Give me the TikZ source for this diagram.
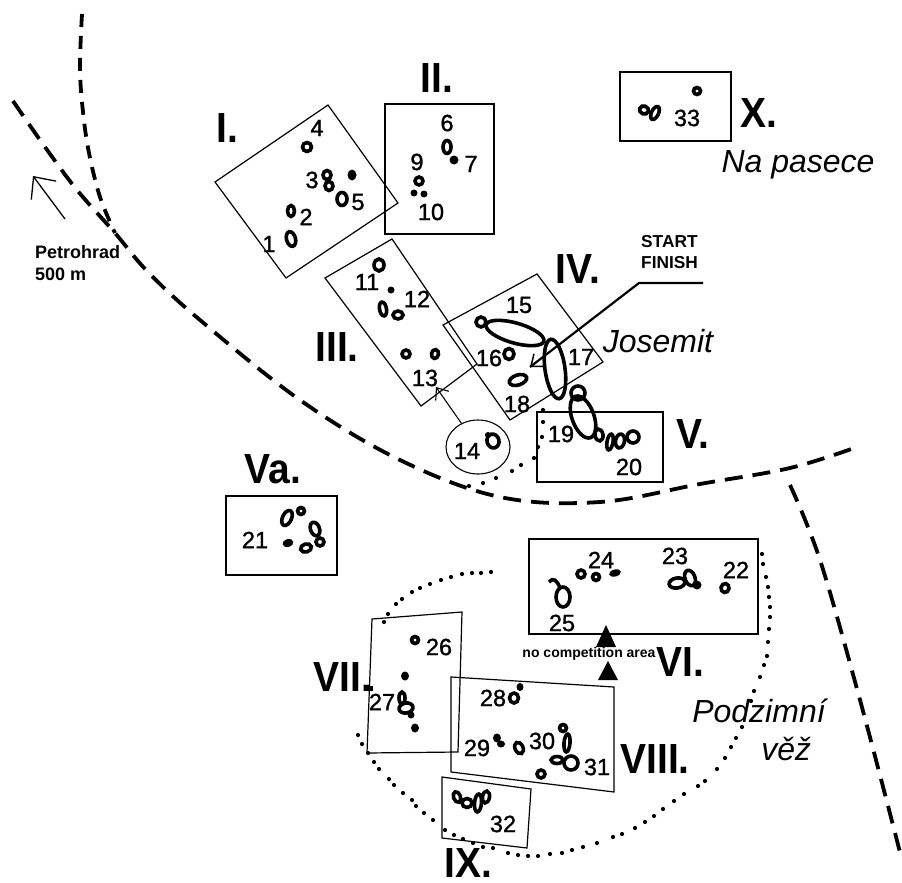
\documentclass[tikz,border=0pt]{standalone}
\usepackage{fontspec}
\setmainfont{Liberation Sans}
\newfontfamily\numf[FakeBold=1.2]{Liberation Sans}
\usetikzlibrary{shapes.geometric,arrows.meta,calc}
\tikzset{
  num/.style={inner sep=0pt,font=\numf\fontsize{23.5}{23.5}\selectfont},
  roman/.style={inner sep=0pt,font=\fontsize{39}{39}\selectfont\bfseries,yscale=1.08,transform shape},
  place/.style={inner sep=0pt,font=\fontsize{32}{38}\selectfont\itshape,align=left},
  small/.style={inner sep=0pt,font=\bfseries,align=left},
  area/.style={draw=black,line width=1.2pt,line join=miter},
  mk/.style={draw=black,line width=3.6pt},
  road/.style={draw=black,line width=3.8pt,dash pattern=on 18pt off 10pt},
  link/.style={draw=black,line width=1.1pt,-{Straight Barb[length=10pt,width=16pt]}}
}
\newcommand{\mk}[5]{\draw[mk,rotate around={#5:(#1,#2)}] (#1,#2) ellipse [x radius=#3, y radius=#4];}
\newcommand{\mkf}[5]{\fill[rotate around={#5:(#1,#2)}] (#1,#2) ellipse [x radius=#3, y radius=#4];}
\begin{document}
\begin{tikzpicture}[x=1pt,y=-1pt]
\useasboundingbox (0,0) rectangle (902,883);
% roads
\draw[road,dash pattern=on 13pt off 9pt] plot[smooth,tension=0.6] coordinates {(82,14) (80,68) (83,112) (89,153) (100,197) (115,233)};
\draw[road] plot[smooth,tension=0.6] coordinates {(13,101) (45,147) (77,190) (115,233) (148,272) (200,320) (300,400) (400,460) (500,497) (600,502) (700,484) (790,468) (857,447)};
\draw[road] plot[smooth,tension=0.6] coordinates {(790,485) (820,560) (860,700) (902,860)};
% dotted lines
\foreach \p/\q in {543/410,543/422,542/437,538/447,534/458,521/465,512/471,496/478,483/483,469/486,
  491/572,481/573,472/573,462/574,451/577,441/580,430/584,420/588,412/592,402/599,396/604,388/614,384/622,
  358/735,362/744,368/753,374/762,379/769,389/779,394/785,403/793,412/800,416/806,424/813,433/820,445/830,454/835,463/839,473/843,483/847,493/848,508/853,518/855,528/856,538/856,550/854,562/853,572/850,583/847,597/843,613/837,622/834,635/828,645/822,654/816,663/809,674/801,684/794,698/786,705/781,717/769,725/758,731/747,736/738,742/727,751/701,754/691,760/677,764/665,767/656,768/642,769/629,770/617,770/607,769/597,768/587,766/577,763/564,762/554}
  {\fill (\p,\q) circle (2.1);}
\fill (367.5,685.5) rectangle (372.5,690.5);
% areas
\draw[area] (215,182) -- (328,105) -- (398,203) -- (286,278) -- cycle;
\draw[area] (385,104) rectangle (494,234);
\draw[area] (325,278) -- (392,239) -- (477,364) -- (421,406) -- cycle;
\draw[area] (443,325) -- (537,274) -- (603,362) -- (510,420) -- cycle;
\draw[area] (537,412) rectangle (663,482);
\draw[area] (620,72) rectangle (731,141);
\draw[area] (226,496) rectangle (337,575);
\draw[area] (529,539) rectangle (758,634);
\draw[area] (372,619) -- (462,612) -- (458,752) -- (367,753) -- cycle;
\draw[area] (451,677) -- (614,687) -- (614,792) -- (451,772) -- cycle;
\draw[area] (442,777) -- (531,789) -- (527,848) -- (442,838) -- cycle;
% markers I, II
\mk{307}{147}{4.5}{4.5}{0}\mk{327}{175}{4}{4.5}{0}\mk{329}{186}{4}{4.5}{0}\mkf{352}{175}{4.5}{5.5}{0}
\mk{342}{199}{5}{6.5}{0}\mk{291}{211}{3.5}{5.5}{0}\mk{291}{239}{4.5}{7.5}{15}
\mk{447}{147}{4}{6.5}{0}\mkf{454}{160}{4.5}{4.5}{0}\mk{419}{181}{4}{4}{0}\mkf{414}{193}{3.5}{3.5}{0}\mkf{424}{194}{3.5}{3.5}{0}
% III
\mk{379}{265}{5}{6}{0}\mkf{391}{290}{3.5}{3.5}{0}\mk{383}{309}{3.5}{7}{10}\mk{398}{315}{5}{4}{0}\mk{406}{354}{4}{4}{0}\mk{435}{354}{3.5}{4.5}{-10}
% IV
\mk{481}{322}{5}{5}{0}\mk{515}{333}{30}{10}{-16}\mk{509}{354}{5}{5.5}{0}\mk{555}{369}{10}{30}{8}\mk{518}{380}{9}{5}{18}
\mk{578}{393}{7}{7}{0}\mk{583}{417}{11}{22}{20}
% V
\mk{599}{435}{4}{6}{10}\mk{610}{442}{3}{8}{-10}\mk{620}{441}{4.5}{7}{-10}\mk{633}{437}{6}{6}{0}
% 14
\mk{493}{441}{6}{7}{15}\mkf{488}{435}{3}{3}{0}
% X
\mk{644}{110}{4.5}{4}{-20}\mk{655}{113}{3.5}{7}{-25}\mk{697}{91}{3.5}{3.5}{0}
% Va
\mk{287}{518}{4.5}{8}{-25}\mk{301}{511}{3.5}{3.5}{0}\mk{315}{529}{4.5}{7}{20}\mk{320}{542}{4}{4}{0}\mkf{288}{543}{5.5}{4}{15}\mk{306}{548}{5.5}{4}{15}
% VI
\mk{581}{574}{4}{4}{0}\mk{596}{577}{3.5}{3.5}{0}\mkf{615}{573}{6}{3.5}{15}\mk{563}{597}{7}{10}{0}
\draw[mk] (549,582) .. controls (553,577) and (557,580) .. (560,588);
\mk{677}{583}{8}{5}{10}\mk{690}{578}{5}{8}{20}\mkf{697}{585}{4.5}{4.5}{0}\mk{725}{588}{4}{4.5}{-10}
% VII
\mk{415}{640}{3.5}{3.5}{0}\mkf{405}{676}{4}{4.5}{0}\mk{402}{698}{3}{6}{0}\mk{406}{708}{7}{5}{10}\mkf{411}{715}{3.5}{3.5}{0}\mkf{415}{728}{4}{4.5}{0}
% VIII
\mkf{520}{687}{3.5}{4}{0}\mk{514}{698}{4.5}{5}{0}\mkf{497}{738}{4}{4.5}{0}\mkf{501}{744}{4}{3.5}{0}\mk{519}{748}{4}{6}{25}
\mk{563}{728}{3.5}{3.5}{0}\mk{567}{743}{3}{9}{-5}\mk{557}{760}{6}{3.5}{0}\mk{571}{763}{7}{7}{0}\mk{541}{774}{4}{4}{0}
% IX
\mk{457}{797}{3.5}{5.5}{20}\mk{467}{803}{5}{4.5}{0}\mk{478}{803}{3.5}{9}{-5}\mk{486}{797}{3.5}{6}{-10}
% triangles
\fill (606,625) -- (596,647) -- (616,647) -- cycle;
\fill (608,661) -- (598,680) -- (618,680) -- cycle;
% numbers
\node[num] (n1) at (269,244) {1};
\node[num] (n2) at (306,217) {2};
\node[num] (n3) at (312,180) {3};
\node[num] (n4) at (317,128) {4};
\node[num] (n5) at (358,202) {5};
\node[num] (n6) at (447,123) {6};
\node[num] (n7) at (471,164) {7};
\node[num] (n9) at (417,162) {9};
\node[num] (n10) at (431,212) {10};
\node[num] (n11) at (367,282) {11};
\node[num] (n12) at (417,299) {12};
\node[num] (n13) at (425,378) {13};
\node[num] (n14) at (467,451) {14};
\node[num] (n15) at (519,305) {15};
\node[num] (n16) at (489,358) {16};
\node[num] (n17) at (581,357) {17};
\node[num] (n18) at (517,404) {18};
\node[num] (n19) at (561,434) {19};
\node[num] (n20) at (629,467) {20};
\node[num] (n21) at (255,540) {21};
\node[num] (n22) at (736,570) {22};
\node[num] (n23) at (675,556) {23};
\node[num] (n24) at (601,560) {24};
\node[num] (n25) at (562,623) {25};
\node[num] (n26) at (439,647) {26};
\node[num] (n27) at (382,702) {27};
\node[num] (n28) at (493,698) {28};
\node[num] (n29) at (477,748) {29};
\node[num] (n30) at (542,741) {30};
\node[num] (n31) at (597,767) {31};
\node[num] (n32) at (503,824) {32};
\node[num] (n33) at (687,118) {33};
% romans
\node[roman] (r1) at (227,128) {I.};
\node[roman] (r2) at (437,78) {II.};
\node[roman] (r3) at (337,347) {III.};
\node[roman] (r4) at (578,269) {IV.};
\node[roman] (r5) at (693,434) {V.};
\node[roman] (r5a) at (273,469) {Va.};
\node[roman] (r6) at (680,662) {VI.};
\node[roman] (r7) at (343,677) {VII.};
\node[roman] (r8) at (655,759) {VIII.};
\node[roman] (r9) at (468,863) {IX.};
\node[roman] (r10) at (759,113) {X.};
% places
\node[place] (pa) at (798,165) {Na pasece};
\node[place] (pb) at (658,341) {Josemit};
\node[place] (pc) at (759,730) {Podzimní\\\hspace*{69pt}věž};
% small texts
\node[small,anchor=west,font=\bfseries\fontsize{17.3}{21}\selectfont] (sf) at (641,252.5) {START\\FINISH};
\node[small,anchor=west,font=\bfseries\fontsize{18}{22}\selectfont] (pe) at (35,263.5) {Petrohrad\\500 m};
\node[inner sep=0pt,font=\fontsize{14}{14}\selectfont\bfseries] (nc) at (589,654) {no competition area};
% connectors
\node[draw=black,line width=1.1pt,ellipse,minimum width=64pt,minimum height=54pt,inner sep=0pt] (e14) at (478,447) {};
\coordinate (c3) at (436,387);
\draw[link] (e14) -- (c3);
\coordinate (a1) at (703,283);
\coordinate (a2) at (639,283);
\coordinate (a3) at (530,367);
\draw[draw=black,line width=2.2pt] (a1) -- (a2) -- (a3);
\draw[link,line width=1.5pt] ($(a2)!0.93!(a3)$) -- (a3);
\coordinate (p1) at (65,219);
\coordinate (p2) at (33,176);
\draw[draw=black,line width=1.3pt,-{Straight Barb[length=17pt,width=31pt]}] (p1) -- (p2);
\end{tikzpicture}
\end{document}
